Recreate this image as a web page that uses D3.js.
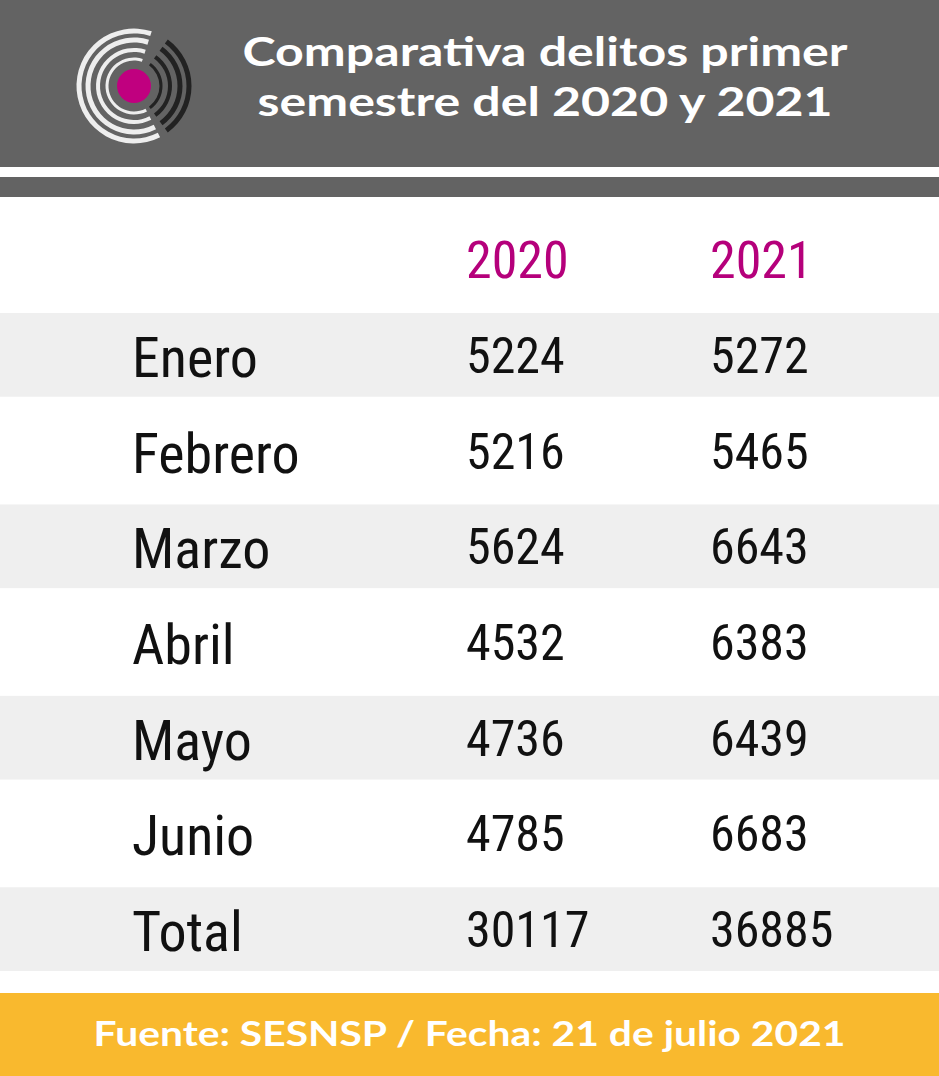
<!DOCTYPE html>
<html><head><meta charset="utf-8">
<script src="https://cdn.jsdelivr.net/npm/d3@7"></script>
<style>body{margin:0;background:#fff}svg{display:block}</style>
</head><body>
<script>
const years = ["2020", "2021"];
const months = ["Enero", "Febrero", "Marzo", "Abril", "Mayo", "Junio", "Total"];
const values2020 = [5224, 5216, 5624, 4532, 4736, 4785, 30117];
const values2021 = [5272, 5465, 6643, 6383, 6439, 6683, 36885];
const titleLines = ["Comparativa delitos primer", "semestre del 2020 y 2021"];
const source = "Fuente: SESNSP / Fecha: 21 de julio 2021";

const W = 939, H = 1076;
const svg = d3.select("body").append("svg").attr("width", W).attr("height", H);
const narrow = "'Liberation Sans Narrow', 'Roboto Condensed', sans-serif";

// header
svg.append("rect").attr("width", W).attr("height", 167).attr("fill", "#636363");
svg.append("rect").attr("y", 177).attr("width", W).attr("height", 20).attr("fill", "#636363");

// logo
const logo = svg.append("g").attr("transform", "translate(134,86)");
[[27, 3], [36, 4], [46, 5], [55, 5]].forEach(([r, w]) => {
  const arc = d3.arc().innerRadius(r - w / 2).outerRadius(r + w / 2);
  logo.append("path").attr("d", arc({startAngle: Math.PI * 0.85, endAngle: Math.PI * 2.1})).attr("fill", "#eeeeee");
  logo.append("path").attr("d", arc({startAngle: Math.PI * 0.2, endAngle: Math.PI * 0.8})).attr("fill", "#222");
});
logo.append("circle").attr("r", 17).attr("fill", "#c0007f");

titleLines.forEach((t, i) => {
  svg.append("text").attr("x", 545).attr("y", 66 + i * 50).attr("text-anchor", "middle")
    .attr("font-family", "Lato, 'Open Sans', sans-serif").attr("font-weight", 700)
    .attr("font-size", 40).attr("fill", "#fff")
    .attr("textLength", i === 0 ? 605 : 575).attr("lengthAdjust", "spacingAndGlyphs").text(t);
});

// table
const y = d3.scaleBand().domain(months).range([307, 977]);
const x = d3.scalePoint().domain(["label", ...years]).range([132, 710]);
const xPos = {label: 132, "2020": 466, "2021": 710};

years.forEach(yr => {
  svg.append("text").attr("x", xPos[yr]).attr("y", 278).attr("font-family", narrow)
    .attr("font-size", 52).attr("fill", "#b5007b").text(yr);
});

const rows = svg.selectAll("g.row").data(months).join("g").attr("class", "row")
  .attr("transform", d => `translate(0,${y(d)})`);
rows.filter((d, i) => i % 2 === 0).append("rect").attr("y", 6).attr("width", W)
  .attr("height", y.bandwidth() - 12).attr("fill", "#efefef");
rows.append("text").attr("x", xPos.label).attr("y", y.bandwidth() / 2 + 22)
  .attr("font-family", narrow).attr("font-size", 56).attr("fill", "#111").text(d => d);
rows.append("text").attr("x", xPos["2020"]).attr("y", y.bandwidth() / 2 + 18)
  .attr("font-family", narrow).attr("font-size", 50).attr("fill", "#111").text((d, i) => values2020[i]);
rows.append("text").attr("x", xPos["2021"]).attr("y", y.bandwidth() / 2 + 18)
  .attr("font-family", narrow).attr("font-size", 50).attr("fill", "#111").text((d, i) => values2021[i]);

// footer
svg.append("rect").attr("y", 993).attr("width", W).attr("height", H - 993).attr("fill", "#f9b92e");
svg.append("text").attr("x", W / 2).attr("y", 1046).attr("text-anchor", "middle")
  .attr("font-family", "Lato, 'Open Sans', sans-serif").attr("font-weight", 700)
  .attr("font-size", 34).attr("fill", "#fff").attr("textLength", 752)
  .attr("lengthAdjust", "spacingAndGlyphs").text(source);
</script>
</body></html>
